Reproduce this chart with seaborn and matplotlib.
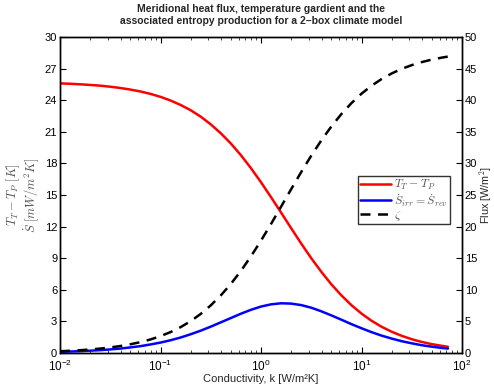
import numpy as np
import pandas as pd
import matplotlib
matplotlib.use("Agg")
import matplotlib.pyplot as plt
import seaborn as sns

# ---- data ----
log_k = [-2.0, -1.9, -1.8, -1.7, -1.6, -1.5, -1.4, -1.3, -1.2, -1.1,
         -1.0, -0.9, -0.8, -0.7, -0.6, -0.5, -0.4, -0.3, -0.2, -0.1,
         0.0, 0.1, 0.2, 0.3, 0.4, 0.5, 0.6, 0.7, 0.8, 0.9,
         1.0, 1.1, 1.2, 1.3, 1.4, 1.5, 1.6, 1.7, 1.8, 1.86]
delta_T = [25.60, 25.56, 25.51, 25.45, 25.38, 25.28, 25.16, 25.01, 24.83, 24.60,
           24.32, 23.97, 23.55, 23.05, 22.44, 21.71, 20.86, 19.89, 18.78, 17.55,
           16.21, 14.79, 13.33, 11.85, 10.39, 9.00, 7.71, 6.52, 5.47, 4.54,
           3.74, 3.06, 2.49, 2.02, 1.63, 1.31, 1.05, 0.84, 0.68, 0.59]
s_dot = [0.11, 0.14, 0.17, 0.22, 0.27, 0.34, 0.42, 0.53, 0.65, 0.81,
         0.99, 1.21, 1.47, 1.78, 2.12, 2.50, 2.91, 3.32, 3.73, 4.10,
         4.41, 4.62, 4.72, 4.69, 4.55, 4.30, 3.96, 3.57, 3.16, 2.74,
         2.35, 1.98, 1.65, 1.37, 1.12, 0.92, 0.74, 0.60, 0.48, 0.42]
flux = [0.28, 0.35, 0.44, 0.56, 0.70, 0.88, 1.10, 1.38, 1.72, 2.14,
        2.67, 3.31, 4.09, 5.04, 6.18, 7.53, 9.11, 10.93, 12.99, 15.29,
        17.78, 20.42, 23.16, 25.92, 28.63, 31.22, 33.64, 35.84, 37.81, 39.54,
        41.03, 42.29, 43.35, 44.23, 44.96, 45.55, 46.03, 46.43, 46.74, 46.90]
left_ticks = [0, 3, 6, 9, 12, 15, 18, 21, 24, 27, 30]
right_ticks = [0, 5, 10, 15, 20, 25, 30, 35, 40, 45, 50]

k = [10 ** v for v in log_k]
df = pd.DataFrame({"k": k, "dT": delta_T, "S": s_dot, "F": flux})

sns.set_style("white")
plt.rcParams["font.family"] = ["Liberation Sans", "DejaVu Sans"]
plt.rcParams["mathtext.fontset"] = "cm"

fig = plt.figure(figsize=(4.94, 3.92), dpi=100)
ax = fig.add_axes([60 / 494, 1 - 353 / 392, 402 / 494, 316 / 392])
ax.set_xscale("log")
ax2 = ax.twinx()
ax2.set_xscale("log")

lw = 1.8
sns.lineplot(data=df, x="k", y="dT", ax=ax, color="#ff0000", lw=lw, legend=False)
sns.lineplot(data=df, x="k", y="S", ax=ax, color="#0000ff", lw=lw, legend=False)
sns.lineplot(data=df, x="k", y="F", ax=ax2, color="black", lw=lw, legend=False)
ax2.lines[0].set_dashes([4, 3])

ax.set_xlim(1e-2, 1e2)
ax.set_ylim(0, 30)
ax2.set_ylim(0, 50)
ax.set_yticks(left_ticks)
ax2.set_yticks(right_ticks)
ax.set_xticks([1e-2, 1e-1, 1e0, 1e1, 1e2])

for a in (ax, ax2):
    for sp in a.spines.values():
        sp.set_color("black")
        sp.set_linewidth(1.0)
    a.tick_params(direction="in", length=4, width=0.8, labelsize=8, colors="black")
    a.tick_params(which="minor", direction="in", length=2.5, width=0.6)

ax.tick_params(axis="x", which="both", top=True, bottom=True)
ax.tick_params(axis="y", right=False, pad=2)
ax2.tick_params(axis="y", left=False, right=True, pad=2)
ax.tick_params(axis="x", pad=4)
for t in ax.get_xticklabels():
    t.set_fontsize(8.5)

ax.set_xlabel("Conductivity, k [W/m\u00b2K]", fontsize=8, labelpad=0)
ax.set_ylabel("$T_T - T_P\\ [K]$\n$\\dot{S}\\ [mW/m^2K]$", fontsize=9,
              color="#555555", linespacing=0.95, labelpad=3)
ax2.set_ylabel("Flux [W/m$^2$]", fontsize=7.8, labelpad=0)

fig.text(0.5 * (60 + 462) / 494, 1 - 15 / 392,
         "Meridional heat flux, temperature gardient and the\n"
         "associated entropy production for a 2\u2013box climate model",
         ha="center", va="center", fontsize=7.5, fontweight="bold", linespacing=1.2)

handles = [ax.lines[0], ax.lines[1], ax2.lines[0]]
labels = ["$T_T - T_P$", "$\\dot{S}_{irr} = \\dot{S}_{rev}$", "$\\zeta$"]
leg = ax2.legend(handles, labels, loc="upper left", bbox_to_anchor=(0.741, 0.560),
                 frameon=True, fancybox=False, fontsize=8.6, handlelength=2.6,
                 handletextpad=0.3, borderpad=0.15, labelspacing=0.0,
                 borderaxespad=0)
leg.get_frame().set_edgecolor("black")
leg.get_frame().set_linewidth(1.0)
for t in leg.get_texts():
    t.set_color("#555555")

fig.savefig("out.png", dpi=100, facecolor="white")
